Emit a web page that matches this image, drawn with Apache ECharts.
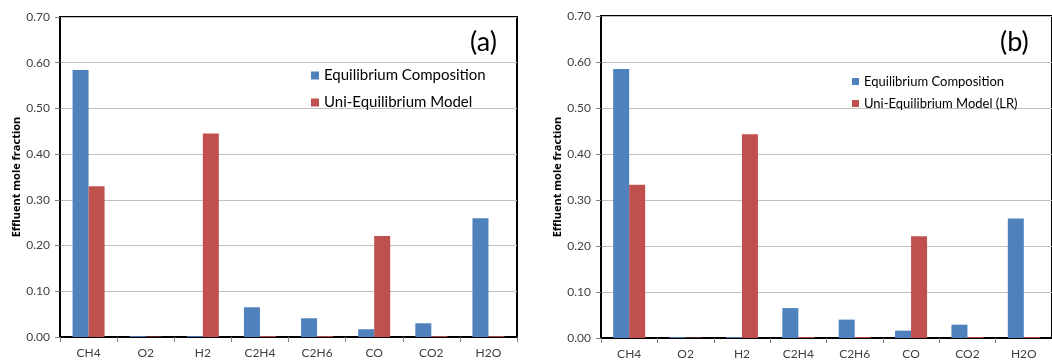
<!DOCTYPE html>
<html lang="en">
<head>
    <meta charset="utf-8">
    <title>Effluent mole fraction</title>
    <script src="https://cdn.jsdelivr.net/npm/echarts@6/dist/echarts.min.js"></script>
    <style>
        html, body { margin: 0; padding: 0; background: #fff; }
        #pic { width: 1052px; height: 360px; }
    </style>
</head>
<body>
<div id="pic"></div>
<script>
    // 数据
    var categories = ['CH4', 'O2', 'H2', 'C2H4', 'C2H6', 'CO', 'CO2', 'H2O'];
    var yTicks = ['0.00', '0.10', '0.20', '0.30', '0.40', '0.50', '0.60', '0.70'];

    // (a)
    var equilA = [0.584, 0.002, 0.002, 0.065, 0.041, 0.017, 0.030, 0.260];
    var uniA   = [0.330, 0.001, 0.445, 0.002, 0.002, 0.221, 0.002, 0.002];
    // (b)
    var equilB = [0.585, 0.002, 0.002, 0.065, 0.040, 0.016, 0.029, 0.260];
    var uniB   = [0.333, 0.001, 0.443, 0.002, 0.002, 0.221, 0.002, 0.002];

    var names = ['Equilibrium Composition', 'Uni-Equilibrium Model', 'Uni-Equilibrium Model (LR)'];
    var blue = '#4F81BD', red = '#C0504D';
    var font = 'Lato';

    var mCharts = echarts.init(document.getElementById('pic'));

    function xAxis(idx) {
        return {
            type: 'category',
            gridIndex: idx,
            data: categories,
            axisLine: { lineStyle: { color: '#000', width: 2 } },
            axisTick: { show: true, length: 5, lineStyle: { color: '#808080' } },
            axisLabel: { color: '#404040', fontFamily: font, fontSize: 12, margin: 10 }
        };
    }
    function yAxis(idx) {
        return {
            type: 'value',
            gridIndex: idx,
            min: 0, max: 0.7, interval: 0.1,
            name: 'Effluent mole fraction',
            nameLocation: 'middle',
            nameGap: idx === 0 ? 37 : 33,
            nameTextStyle: { fontFamily: 'Open Sans', fontWeight: 'bold', fontSize: 11, color: '#000' },
            axisLine: { show: true, lineStyle: { color: '#000', width: 2 } },
            axisTick: { show: true, length: 5, lineStyle: { color: '#808080' } },
            axisLabel: {
                color: '#404040', fontFamily: font, fontSize: 12, margin: 10,
                formatter: function (v) { return yTicks[Math.round(v * 10)]; }
            },
            splitLine: { lineStyle: { color: '#c0c0c0', width: 1 } }
        };
    }
    function bar(name, data, color, idx) {
        return {
            name: name,
            type: 'bar',
            xAxisIndex: idx,
            yAxisIndex: idx,
            data: data,
            barWidth: 16,
            barGap: '0%',
            itemStyle: { color: color },
            animation: false
        };
    }

    var option = {
        animation: false,
        grid: [
            { left: 60, top: 17, width: 457, height: 320, show: true, borderColor: '#000', borderWidth: 2 },
            { left: 601, top: 16, width: 460, height: 322, show: true, borderColor: '#000', borderWidth: 2 }
        ],
        xAxis: [xAxis(0), xAxis(1)],
        yAxis: [yAxis(0), yAxis(1)],
        legend: [
            {
                orient: 'vertical', left: 306, top: 63,
                icon: 'rect', itemWidth: 8, itemHeight: 8, itemGap: 12,
                textStyle: { fontFamily: font, fontSize: 15, color: '#000', lineHeight: 15 },
                data: [names[0], names[1]]
            },
            {
                orient: 'vertical', left: 847, top: 70,
                icon: 'rect', itemWidth: 7, itemHeight: 7, itemGap: 9,
                textStyle: { fontFamily: font, fontSize: 13, color: '#000', lineHeight: 13 },
                data: [names[0], names[2]]
            }
        ],
        graphic: [
            { type: 'text', left: 470, top: 29, style: { text: '(a)', font: '27px ' + font, fill: '#000' } },
            { type: 'text', left: 1000, top: 29, style: { text: '(b)', font: '27px ' + font, fill: '#000' } }
        ],
        series: [
            bar(names[0], equilA, blue, 0),
            bar(names[1], uniA, red, 0),
            bar(names[0], equilB, blue, 1),
            bar(names[2], uniB, red, 1)
        ]
    };
    mCharts.setOption(option);
</script>
</body>
</html>
